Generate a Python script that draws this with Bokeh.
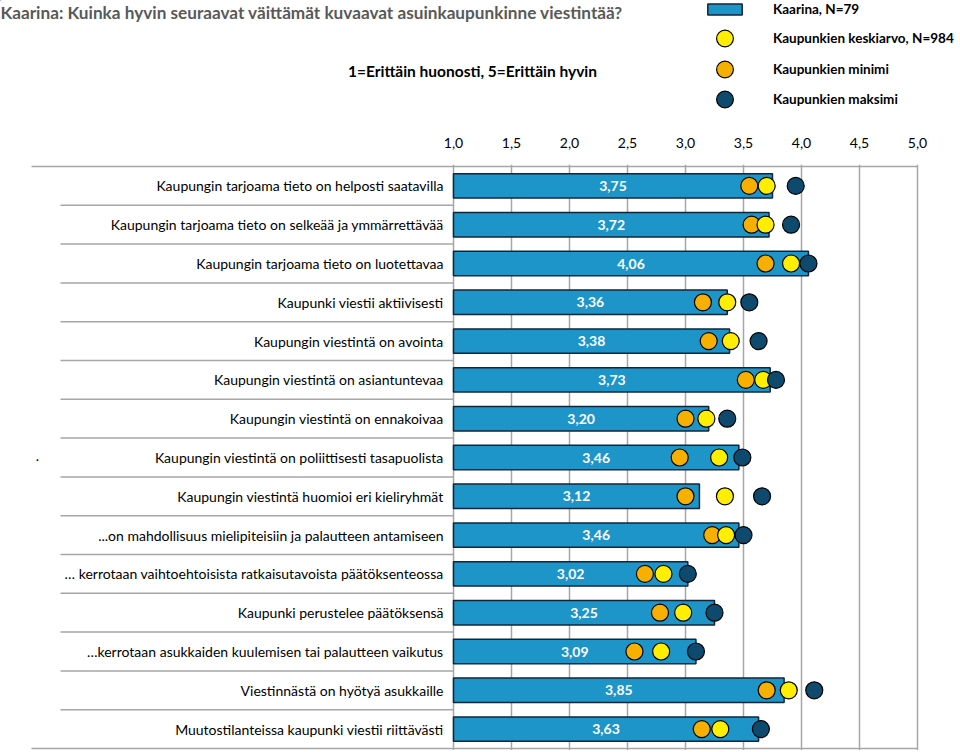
from bokeh.plotting import figure
from bokeh.layouts import column
from bokeh.models import (Range1d, FixedTicker, CustomJSTickFormatter, Label, Legend,
                          LegendItem, ColumnDataSource)
from bokeh.core.properties import value
from bokeh.embed import file_html
from bokeh.resources import INLINE

TITLE = "Kaarina: Kuinka hyvin seuraavat väittämät kuvaavat asuinkaupunkinne viestintää?"
SUBTITLE = "1=Erittäin huonosti, 5=Erittäin hyvin"

CATEGORIES = [
    "Kaupungin tarjoama tieto on helposti saatavilla",
    "Kaupungin tarjoama tieto on selkeää ja ymmärrettävää",
    "Kaupungin tarjoama tieto on luotettavaa",
    "Kaupunki viestii aktiivisesti",
    "Kaupungin viestintä on avointa",
    "Kaupungin viestintä on asiantuntevaa",
    "Kaupungin viestintä on ennakoivaa",
    "Kaupungin viestintä on poliittisesti tasapuolista",
    "Kaupungin viestintä huomioi eri kieliryhmät",
    "...on mahdollisuus mielipiteisiin ja palautteen antamiseen",
    "\u2026 kerrotaan vaihtoehtoisista ratkaisutavoista päätöksenteossa",
    "Kaupunki perustelee päätöksensä",
    "\u2026kerrotaan asukkaiden kuulemisen tai palautteen vaikutus",
    "Viestinnästä on hyötyä asukkaille",
    "Muutostilanteissa kaupunki viestii riittävästi",
]
KAARINA = [3.75, 3.72, 4.06, 3.36, 3.38, 3.73, 3.20, 3.46, 3.12, 3.46, 3.02, 3.25, 3.09, 3.85, 3.63]
KESKIARVO = [3.70, 3.69, 3.91, 3.36, 3.39, 3.67, 3.18, 3.29, 3.34, 3.35, 2.81, 2.98, 2.79, 3.89, 3.30]
MINIMI = [3.55, 3.57, 3.69, 3.15, 3.20, 3.52, 3.00, 2.95, 3.00, 3.23, 2.65, 2.78, 2.56, 3.70, 3.14]
MAKSIMI = [3.95, 3.91, 4.06, 3.55, 3.63, 3.78, 3.36, 3.49, 3.66, 3.50, 3.02, 3.25, 3.09, 4.11, 3.65]
TICKS = [1.0, 1.5, 2.0, 2.5, 3.0, 3.5, 4.0, 4.5, 5.0]
TICK_LABELS = ["1,0", "1,5", "2,0", "2,5", "3,0", "3,5", "4,0", "4,5", "5,0"]
SERIES = ["Kaarina, N=79", "Kaupunkien keskiarvo, N=984", "Kaupunkien minimi", "Kaupunkien maksimi"]

FONT = "Lato"
GRID = "#a6a6a6"
BAR = "#1d95c9"
BAR_LINE = "#10263b"
YELLOW = "#ffee00"
ORANGE = "#f7b000"
NAVY = "#0e4a6e"

W = 956
HEAD_H = 128
MAIN_H = 622

# ---------------- header: title, subtitle, legend ----------------
head = figure(width=W, height=HEAD_H, output_backend="svg", toolbar_location=None,
              x_range=Range1d(0, W), y_range=Range1d(HEAD_H, 0),
              x_axis_type=None, y_axis_type=None, min_border=0)
head.outline_line_color = None
head.grid.visible = False

head.add_layout(Label(x=0, y=12, text=TITLE, text_font=FONT, text_font_style="bold",
                      text_font_size="17.2px", text_color="#595959",
                      text_align="left", text_baseline="middle"))
head.add_layout(Label(x=472, y=70, text=SUBTITLE, text_font=FONT, text_font_style="bold",
                      text_font_size="15.5px", text_color="black",
                      text_align="center", text_baseline="middle"))

# legend key renderers (their single point lies outside the visible header range)
lg_bar = head.hbar(y=[-100], left=[-100], right=[-90], height=1,
                   fill_color=BAR, line_color=BAR_LINE, line_width=1.5)
lg_avg = head.scatter(x=[-100], y=[-100], size=17, fill_color=YELLOW, line_color="black", line_width=1.2)
lg_min = head.scatter(x=[-100], y=[-100], size=17, fill_color=ORANGE, line_color="black", line_width=1.2)
lg_max = head.scatter(x=[-100], y=[-100], size=17, fill_color=NAVY, line_color="black", line_width=1.2)

common = dict(padding=0, margin=0, border_line_color=None, background_fill_alpha=0,
              label_text_font=FONT, label_text_font_style="bold", label_text_font_size="13.5px",
              label_text_color="black", glyph_width=43, label_standoff=27, label_height=14)
LEG_X = 703
legend_specs = [(SERIES[0], lg_bar, 10, 14), (SERIES[1], lg_avg, 38, 42),
                (SERIES[2], lg_min, 69, 42), (SERIES[3], lg_max, 99, 42)]
for lab, rend, cy, gh in legend_specs:
    head.add_layout(Legend(items=[LegendItem(label=lab, renderers=[rend])],
                           location=(LEG_X, HEAD_H - (cy + gh / 2)), glyph_height=gh, **common),
                    "center")

# ---------------- main chart ----------------
n = len(CATEGORIES)
rows = [i + 0.5 for i in range(n)]
src = ColumnDataSource(dict(
    y=rows, cat=CATEGORIES, kaarina=KAARINA, mid=[(TICKS[0] + v) / 2 for v in KAARINA],
    txt=[f"{v:.2f}".replace(".", ",") for v in KAARINA],
    avg=KESKIARVO, mn=MINIMI, mx=MAKSIMI,
))

PXU = 116.0            # pixels per scale unit
X_AT_START = 453       # page x of the scale start (1,0)
BORDER_T = 36
x_start = TICKS[0] - X_AT_START / PXU
x_end = TICKS[0] + (W - X_AT_START) / PXU
FRAME_H = MAIN_H - BORDER_T
row_px = (FRAME_H - 4) / n
pad = 2 / row_px
sep_x0 = TICKS[0] - 393 / PXU     # row separators start
edge_x0 = TICKS[0] - 422 / PXU    # top / bottom rule start

p = figure(width=W, height=MAIN_H, output_backend="svg", toolbar_location=None,
           x_range=Range1d(x_start, x_end), y_range=Range1d(n + pad, -pad),
           x_axis_location="above", y_axis_type=None,
           min_border_left=0, min_border_right=0,
           min_border_top=BORDER_T, min_border_bottom=0)
p.outline_line_color = None
p.background_fill_color = "white"
p.border_fill_color = "white"

xa = p.xaxis[0]
xa.ticker = FixedTicker(ticks=TICKS, minor_ticks=[])
xa.formatter = CustomJSTickFormatter(args=dict(tvals=TICKS, tlabels=TICK_LABELS),
                                     code="const i = tvals.indexOf(tick); return i >= 0 ? tlabels[i] : '';")
xa.axis_line_color = None
xa.major_tick_line_color = None
xa.minor_tick_line_color = None
xa.major_label_text_font = FONT
xa.major_label_text_font_size = "14px"
xa.major_label_text_color = "black"
xa.major_label_standoff = 11

p.xgrid.ticker = FixedTicker(ticks=TICKS)
p.xgrid.grid_line_color = GRID
p.xgrid.grid_line_width = 1.5
p.ygrid.grid_line_color = None

p.segment(x0=[edge_x0, edge_x0], y0=[0, n], x1=[TICKS[-1], TICKS[-1]], y1=[0, n],
          line_color=GRID, line_width=1.5)
bounds = list(range(1, n))
p.segment(x0=[sep_x0] * len(bounds), y0=bounds, x1=[TICKS[0]] * len(bounds), y1=bounds,
          line_color=GRID, line_width=1.5)

p.text(x=TICKS[0], y="y", text="cat", source=src, x_offset=-10, text_color="black",
       text_font=value(FONT), text_font_size="14px", text_align="right", text_baseline="middle")

p.hbar(y="y", left=TICKS[0], right="kaarina", height=0.63, source=src,
       fill_color=BAR, line_color=BAR_LINE, line_width=1.5)
p.text(x="mid", y="y", text="txt", source=src, text_color="white",
       text_font=value(FONT), text_font_style="bold", text_font_size="14px",
       text_align="center", text_baseline="middle")
p.scatter(x="mn", y="y", source=src, size=17, fill_color=ORANGE, line_color="black", line_width=1.2)
p.scatter(x="avg", y="y", source=src, size=17, fill_color=YELLOW, line_color="black", line_width=1.2)
p.scatter(x="mx", y="y", source=src, size=17, fill_color=NAVY, line_color="black", line_width=1.2)

# stray dot in the original, left of row 8
p.add_layout(Label(x=37, y=(HEAD_H + MAIN_H) - 455, x_units="screen", y_units="screen",
                   text=".", text_font=FONT, text_font_size="14px", text_color="black",
                   text_align="center", text_baseline="middle"))

layout = column(head, p, spacing=0)
open("out.html", "w").write(file_html(layout, INLINE))
